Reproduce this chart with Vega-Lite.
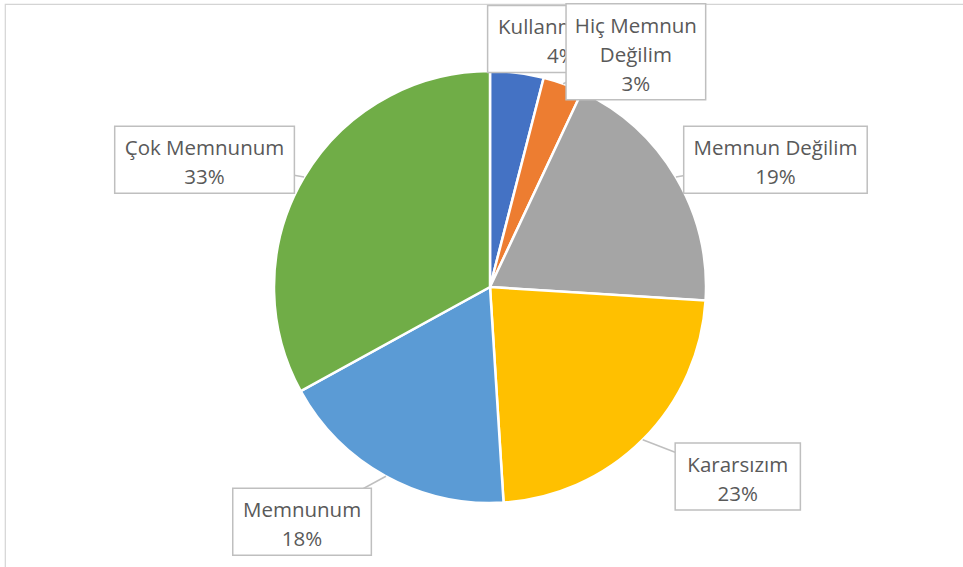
{
  "$schema": "https://vega.github.io/schema/vega-lite/v6.json",
  "width": 970,
  "height": 566,
  "autosize": {"type": "none"},
  "padding": {"left": 5, "top": 4, "right": -12, "bottom": -3},
  "background": "white",
  "config": {"view": {"stroke": "#D4D4D4", "strokeWidth": 1.2}},
  "data": {
    "values": [
      {"category": "Kullanmadım", "label": "Kullanmadım", "value": 4},
      {"category": "Hiç Memnun Değilim", "label": "Hiç Memnun\nDeğilim", "value": 3},
      {"category": "Memnun Değilim", "label": "Memnun Değilim", "value": 19},
      {"category": "Kararsızım", "label": "Kararsızım", "value": 23},
      {"category": "Memnunum", "label": "Memnunum", "value": 18},
      {"category": "Çok Memnunum", "label": "Çok Memnunum", "value": 33}
    ]
  },
  "transform": [
    {"window": [{"op": "sum", "field": "value", "as": "cum"}, {"op": "row_number", "as": "idx"}], "frame": [null, 0]},
    {"joinaggregate": [{"op": "sum", "field": "value", "as": "total"}]},
    {"calculate": "datum.cum - datum.value", "as": "start"},
    {"calculate": "2*PI*(datum.cum - datum.value/2)/datum.total", "as": "mid"},
    {"calculate": "(sin(datum.mid) < 0 ? -1 : 1) * 318 * pow(abs(sin(datum.mid)), 0.72)", "as": "lx"},
    {"calculate": "(cos(datum.mid) < 0 ? 268 : 250) * cos(datum.mid)", "as": "ly"},
    {"calculate": "216*sin(datum.mid)", "as": "ex"},
    {"calculate": "216*cos(datum.mid)", "as": "ey"},
    {"calculate": "split(datum.label, '\\n')[0]", "as": "first"},
    {"calculate": "length(split(datum.label, '\\n')) + 1", "as": "nlines"},
    {"calculate": "length(datum.first)", "as": "L"},
    {"calculate": "datum.L - length(replace(datum.first, regexp('[mMwW]', 'g'), ''))", "as": "nWide"},
    {"calculate": "datum.L - length(replace(datum.first, regexp('[iıl ]', 'g'), ''))", "as": "nNarrow"},
    {"calculate": "datum.L - length(replace(datum.first, regexp('[rszçctf]', 'g'), ''))", "as": "nMed"},
    {"calculate": "1.03*(11.6*datum.L + 6.8*datum.nWide - 6.5*datum.nNarrow - 2.4*datum.nMed) + 22", "as": "bw"},
    {"calculate": "29*datum.nlines + 9", "as": "bh"},
    {"calculate": "datum.lx - datum.bw/2", "as": "bx0"},
    {"calculate": "datum.lx + datum.bw/2", "as": "bx1"},
    {"calculate": "datum.ly - datum.bh/2", "as": "by0"},
    {"calculate": "datum.ly + datum.bh/2", "as": "by1"},
    {"calculate": "datum.ly + (datum.nlines - 1)*14.5 - 4", "as": "ty"},
    {"calculate": "datum.label + '\\n' + datum.value + '%'", "as": "txt"}
  ],
  "layer": [
    {
      "mark": {"type": "arc", "outerRadius": 216, "stroke": "white", "strokeWidth": 2.5},
      "encoding": {
        "theta": {"field": "start", "type": "quantitative", "scale": {"domain": [0, 100]}},
        "theta2": {"field": "cum"},
        "color": {
          "field": "category",
          "type": "nominal",
          "scale": {
            "domain": ["Kullanmadım", "Hiç Memnun Değilim", "Memnun Değilim", "Kararsızım", "Memnunum", "Çok Memnunum"],
            "range": ["#4472C4", "#ED7D31", "#A5A5A5", "#FFC000", "#5B9BD5", "#70AD47"]
          },
          "legend": null
        }
      }
    },
    {
      "mark": {"type": "rule", "color": "#BFBFBF", "strokeWidth": 1.5},
      "encoding": {
        "x": {"field": "ex", "type": "quantitative", "scale": {"domain": [-485, 485], "nice": false, "zero": false}, "axis": null},
        "y": {"field": "ey", "type": "quantitative", "scale": {"domain": [-283, 283], "nice": false, "zero": false}, "axis": null},
        "x2": {"field": "lx"},
        "y2": {"field": "ly"}
      }
    },
    {
      "transform": [{"filter": "datum.idx == 1"}],
      "mark": {"type": "rect", "fill": "white", "stroke": "#BFBFBF", "strokeWidth": 1.5},
      "encoding": {
        "x": {"field": "bx0", "type": "quantitative", "scale": {"domain": [-485, 485], "nice": false, "zero": false}, "axis": null},
        "x2": {"field": "bx1"},
        "y": {"field": "by0", "type": "quantitative", "scale": {"domain": [-283, 283], "nice": false, "zero": false}, "axis": null},
        "y2": {"field": "by1"}
      }
    },
    {
      "transform": [{"filter": "datum.idx == 1"}],
      "mark": {"type": "text", "font": "Open Sans", "fontSize": 20.5, "color": "#595959", "lineHeight": 29, "lineBreak": "\n", "align": "center", "baseline": "middle"},
      "encoding": {
        "x": {"field": "lx", "type": "quantitative", "scale": {"domain": [-485, 485], "nice": false, "zero": false}, "axis": null},
        "y": {"field": "ty", "type": "quantitative", "scale": {"domain": [-283, 283], "nice": false, "zero": false}, "axis": null},
        "text": {"field": "txt"}
      }
    },
    {
      "transform": [{"filter": "datum.idx > 1"}],
      "mark": {"type": "rect", "fill": "white", "stroke": "#BFBFBF", "strokeWidth": 1.5},
      "encoding": {
        "x": {"field": "bx0", "type": "quantitative", "scale": {"domain": [-485, 485], "nice": false, "zero": false}, "axis": null},
        "x2": {"field": "bx1"},
        "y": {"field": "by0", "type": "quantitative", "scale": {"domain": [-283, 283], "nice": false, "zero": false}, "axis": null},
        "y2": {"field": "by1"}
      }
    },
    {
      "transform": [{"filter": "datum.idx > 1"}],
      "mark": {"type": "text", "font": "Open Sans", "fontSize": 20.5, "color": "#595959", "lineHeight": 29, "lineBreak": "\n", "align": "center", "baseline": "middle"},
      "encoding": {
        "x": {"field": "lx", "type": "quantitative", "scale": {"domain": [-485, 485], "nice": false, "zero": false}, "axis": null},
        "y": {"field": "ty", "type": "quantitative", "scale": {"domain": [-283, 283], "nice": false, "zero": false}, "axis": null},
        "text": {"field": "txt"}
      }
    }
  ]
}
